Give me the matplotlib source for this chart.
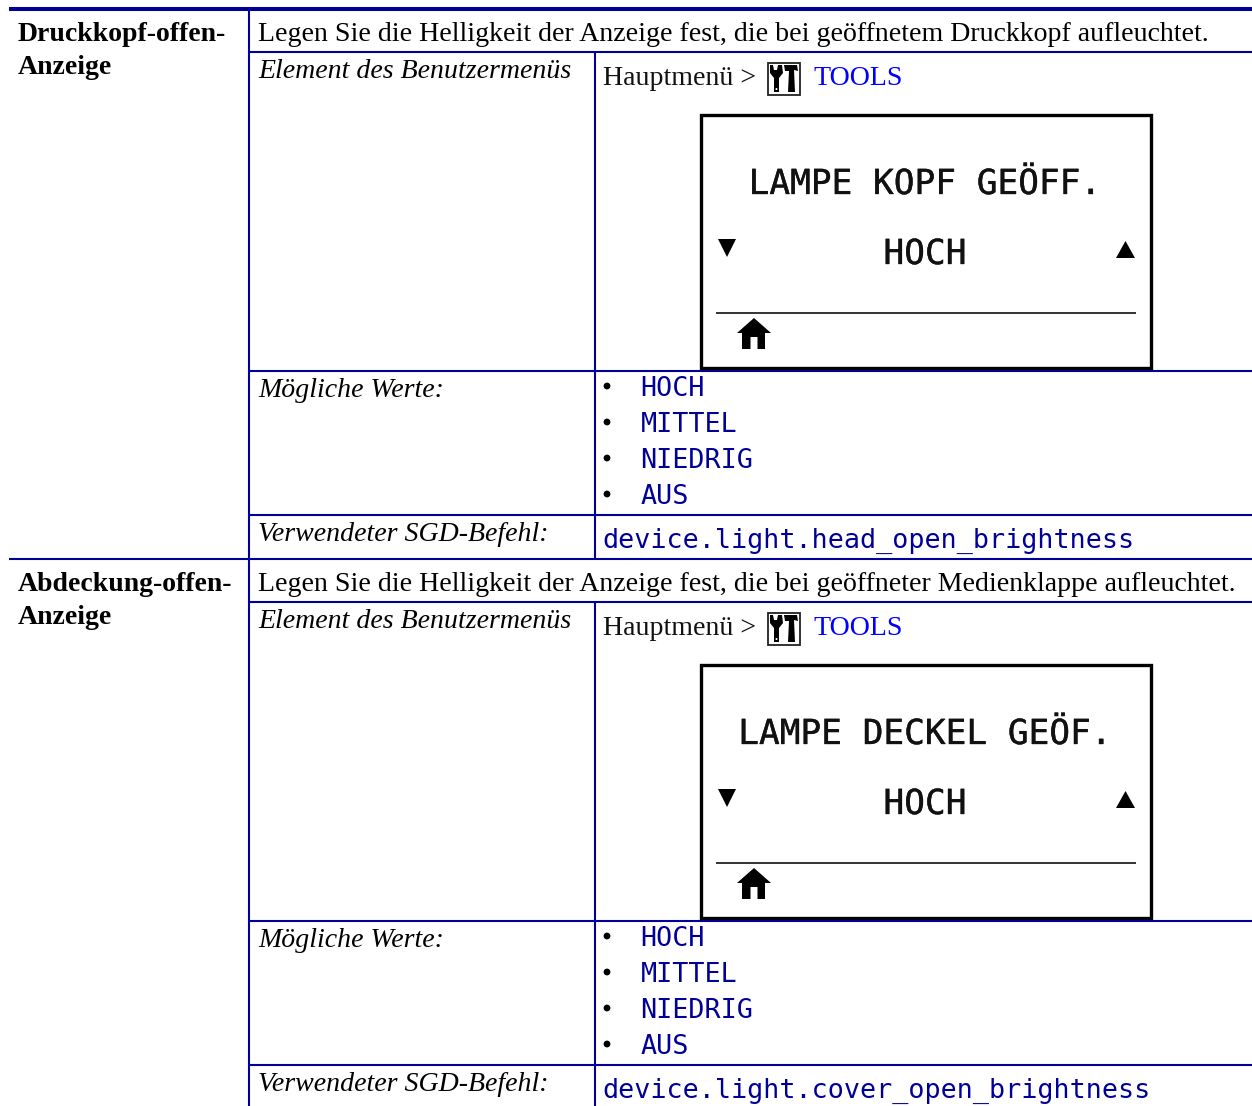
import matplotlib
matplotlib.use("Agg")
import matplotlib.patheffects as pe
import matplotlib.pyplot as plt
from matplotlib.patches import Polygon, Rectangle, Circle

NAVY = "#000099"
SERIF = "Liberation Serif"
MONO = "DejaVu Sans Mono"

section_offsets = [0, 550]
section_titles = [["Druckkopf-offen-", "Anzeige"], ["Abdeckung-offen-", "Anzeige"]]
descriptions = [
    "Legen Sie die Helligkeit der Anzeige fest, die bei geöffnetem Druckkopf aufleuchtet.",
    "Legen Sie die Helligkeit der Anzeige fest, die bei geöffneter Medienklappe aufleuchtet.",
]
row_labels = ["Element des Benutzermenüs", "Mögliche Werte:", "Verwendeter SGD-Befehl:"]
lcd_titles = ["LAMPE KOPF GEÖFF.", "LAMPE DECKEL GEÖF."]
lcd_value = "HOCH"
values = ["HOCH", "MITTEL", "NIEDRIG", "AUS"]
commands = ["device.light.head_open_brightness", "device.light.cover_open_brightness"]

fig = plt.figure(figsize=(12.52, 11.06), dpi=100)
ax = fig.add_axes([0, 0, 1, 1])
ax.set_xlim(0, 1252)
ax.set_ylim(1106, 0)
ax.axis("off")


def shape(points, dy):
    ax.add_patch(Polygon([(x, y + dy) for x, y in points], fc="black", ec="none"))


def tools_icon(dy):
    ax.add_patch(Rectangle((767.5, 62.5 + dy), 32, 32, fc="white", ec="#222222", lw=1.3))
    # wrench
    shape([(770, 65), (773, 65), (774, 70), (777, 70), (778, 65), (782, 65), (783, 73), (779, 78),
           (779, 92), (774, 92), (774, 78), (770, 73)], dy)
    # hammer
    shape([(784, 65), (797, 65), (798, 71), (794, 70), (795, 92), (788, 92), (789, 71), (785, 71)], dy)
    ax.add_patch(Circle((776.5, 89 + dy), 1, fc="white", ec="none"))


def home_icon(dy):
    shape([(737, 333), (754, 318), (771, 333), (765, 333), (765, 349), (757.5, 349), (757.5, 337),
           (750.5, 337), (750.5, 349), (742, 349), (742, 333)], dy)


def section(i, dy):
    # table lines
    ax.plot([9, 1252], [9 + dy, 9 + dy], color=NAVY, lw=2.9 if i == 0 else 1.5, solid_capstyle="butt")
    ax.plot([248.5, 248.5], [9 + dy, min(559 + dy, 1106)], color=NAVY, lw=1.5, solid_capstyle="butt")
    ax.plot([595, 595], [52 + dy, min(559 + dy, 1106)], color=NAVY, lw=1.5, solid_capstyle="butt")
    for y in [52, 371, 515]:
        ax.plot([249, 1252], [y + dy, y + dy], color=NAVY, lw=1.5, solid_capstyle="butt")

    # left column
    ax.text(18, 41 + dy, section_titles[i][0], family=SERIF, weight="bold", fontsize=20.0, va="baseline")
    ax.text(18, 74 + dy, section_titles[i][1], family=SERIF, weight="bold", fontsize=20.0, va="baseline")
    ax.text(258, 41 + dy, descriptions[i], family=SERIF, fontsize=20.08, va="baseline")
    for label, y in zip(row_labels, [78, 397, 541]):
        ax.text(258, y + dy, label, family=SERIF, style="italic", fontsize=20.08, va="baseline")

    # menu path
    ax.text(603, 85 + dy, "Hauptmenü >", family=SERIF, fontsize=20.08, color="#111111", va="baseline")
    tools_icon(dy)
    ax.text(813, 85 + dy, "TOOLS", family=SERIF, fontsize=20.08, color="#0000ff", va="baseline")

    # display
    ax.add_patch(Rectangle((701, 114.5 + dy), 449.5, 253, fc="white", ec="black", lw=2.4))
    stroke = [pe.withStroke(linewidth=0.25, foreground="#111111")]
    ax.text(925, 194 + dy, lcd_titles[i], family=MONO, fontsize=24.8, color="#111111", ha="center",
            va="baseline", path_effects=stroke)
    ax.text(925, 264 + dy, lcd_value, family=MONO, fontsize=24.8, color="#111111", ha="center",
            va="baseline", path_effects=stroke)
    shape([(718, 239), (736, 239), (727, 257)], dy)
    shape([(1116, 258), (1135, 258), (1125.5, 241)], dy)
    ax.plot([716, 1136], [313 + dy, 313 + dy], color="#111111", lw=1.2, solid_capstyle="butt")
    home_icon(dy)

    # values list
    for k, value in enumerate(values):
        y = 395.5 + k * 36 + dy
        ax.add_patch(Circle((607, y - 9.5), 3.4, fc="black", ec="none"))
        ax.text(640.5, y, value, family=MONO, fontsize=19.3, color=NAVY, va="baseline")

    ax.text(602.5, 547.5 + dy, commands[i], family=MONO, fontsize=19.3, color=NAVY, va="baseline")


for i, dy in enumerate(section_offsets):
    section(i, dy)

fig.savefig("out.png", dpi=100, facecolor="white")
